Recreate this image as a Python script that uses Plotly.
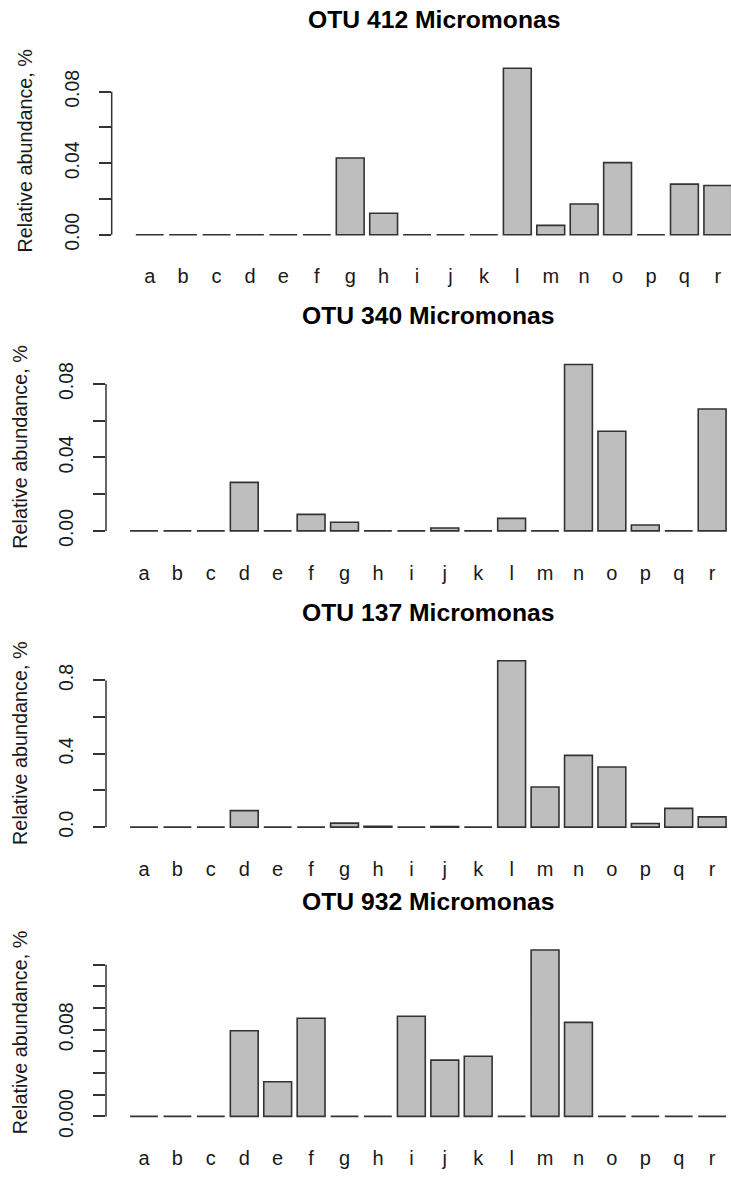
import plotly.graph_objects as go

# Sample labels shared by every panel
samples = list("abcdefghijklmnopqr")

# Relative abundance (%) of each OTU per sample
otu412 = [0, 0, 0, 0, 0, 0, 0.0429, 0.0120, 0, 0, 0, 0.0931, 0.0052, 0.0172, 0.0403, 0, 0.0283, 0.0275]
otu340 = [0, 0, 0, 0.0264, 0, 0.0090, 0.0047, 0, 0, 0.0016, 0, 0.0068, 0, 0.0906, 0.0543, 0.0032, 0, 0.0664]
otu137 = [0, 0, 0, 0.090, 0, 0, 0.0215, 0.004, 0, 0.003, 0, 0.9075, 0.219, 0.391, 0.328, 0.020, 0.102, 0.056]
otu932 = [0, 0, 0, 0.0079, 0.0032, 0.00906, 0, 0, 0.00924, 0.00519, 0.00555, 0, 0.01535, 0.00867, 0, 0, 0, 0]

titles = ["OTU 412 Micromonas", "OTU 340 Micromonas", "OTU 137 Micromonas", "OTU 932 Micromonas"]
series = [otu412, otu340, otu137, otu932]

# y-axis ticks and their labels (overlapping labels are left blank)
tick_vals = [
    [0, 0.02, 0.04, 0.06, 0.08],
    [0, 0.02, 0.04, 0.06, 0.08],
    [0, 0.2, 0.4, 0.6, 0.8],
    [0, 0.002, 0.004, 0.006, 0.008, 0.010, 0.012, 0.014],
]
tick_text = [
    ["0.00", "", "0.04", "", "0.08"],
    ["0.00", "", "0.04", "", "0.08"],
    ["0.0", "", "0.4", "", "0.8"],
    ["0.000", "", "", "", "0.008", "", "", ""],
]

# ---- page geometry (pixels) ----
W, H = 731, 1186
PLOT_H = 182.0                      # height of each plotting region
zero_px = [237.7, 537.7, 837.7, 1130.7]   # vertical position of the baseline
axis_px = [111.7, 106.0, 106.0, 106.0]    # horizontal position of the y axis
title_px = [19.5, 320.0, 620.0, 913.0]
ylab_px = [25.0, 20.0, 20.0, 20.0]
PITCH = 33.42                       # distance between neighbouring bars
FIRST_OFF = 38.0                    # y axis to centre of first bar
FONT = "Liberation Sans, Arial, sans-serif"
INK = "#333333"

fig = go.Figure()
annotations = []
shapes = []

for k, vals in enumerate(series):
    n = "" if k == 0 else str(k + 1)
    xa, ya = "x" + n, "y" + n
    M = max(vals)
    top = zero_px[k] - PLOT_H * 1.04 / 1.08
    bot = zero_px[k] + PLOT_H * 0.04 / 1.08
    first_c = axis_px[k] + FIRST_OFF
    x_lo = -FIRST_OFF / PITCH
    x_hi = (W - first_c) / PITCH

    fig.add_trace(go.Bar(
        x=samples, y=vals, xaxis=xa, yaxis=ya,
        marker=dict(color="#bebebe", line=dict(color=INK, width=1.6)),
        showlegend=False, hoverinfo="x+y",
    ))

    fig.layout["xaxis" + n] = dict(
        domain=[axis_px[k] / W, 1.0], anchor=ya,
        type="category", range=[x_lo, x_hi],
        showgrid=False, zeroline=False, showline=False,
        ticks="", ticklabelstandoff=21,
        tickfont=dict(family=FONT, size=20, color="#1a1a1a"),
    )
    fig.layout["yaxis" + n] = dict(
        domain=[1 - bot / H, 1 - top / H], anchor=xa,
        range=[-0.04 * M, 1.04 * M],
        showgrid=False, zeroline=False, showline=False,
        ticks="outside", ticklen=12, tickwidth=1.5, tickcolor=INK,
        tickvals=tick_vals[k], ticktext=tick_text[k],
        tickangle=-90, ticklabelstandoff=12,
        tickfont=dict(family=FONT, size=19.5, color="#1a1a1a"),
    )

    # axis line spans only from the first to the last tick
    shapes.append(dict(
        type="line", xref=xa + " domain", yref=ya,
        x0=0, x1=0, y0=tick_vals[k][0], y1=tick_vals[k][-1],
        line=dict(color=INK, width=1.5),
    ))

    # panel title, centred over the full plotting region
    region_right = first_c + 17 * PITCH + FIRST_OFF
    annotations.append(dict(
        text="<b>" + titles[k] + "</b>", xref="paper", yref="paper",
        x=(axis_px[k] + region_right) / 2 / W, y=1 - title_px[k] / H,
        xanchor="center", yanchor="middle", showarrow=False,
        font=dict(family=FONT, size=24.7, color="#000"),
    ))
    # y-axis title
    annotations.append(dict(
        text="Relative abundance, %", xref="paper", yref="paper",
        x=ylab_px[k] / W, y=1 - (top + bot) / 2 / H,
        xanchor="center", yanchor="middle", textangle=-90, showarrow=False,
        font=dict(family=FONT, size=19.8, color="#1a1a1a"),
    ))

fig.update_layout(
    width=W, height=H,
    margin=dict(l=0, r=0, t=0, b=0),
    paper_bgcolor="white", plot_bgcolor="white",
    bargap=0.167,
    annotations=annotations, shapes=shapes,
)

fig.write_html("out.html")
